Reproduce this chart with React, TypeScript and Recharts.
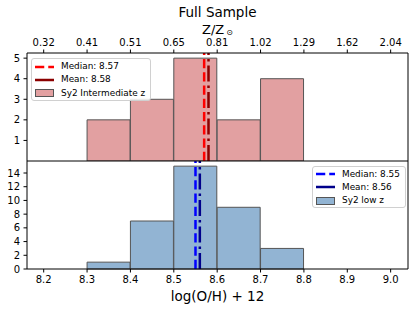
import React from "react";
import { BarChart, Bar, XAxis, YAxis, ReferenceLine } from "recharts";

// bin centres of log(O/H)+12 (width 0.1)
const binCenters = [8.35, 8.45, 8.55, 8.65, 8.75];
const countsIntermediate = [2, 3, 5, 2, 4];
const countsLow = [1, 7, 15, 9, 3];

const xTicks = [8.2, 8.3, 8.4, 8.5, 8.6, 8.7, 8.8, 8.9, 9.0];
const zTickLabels = ["0.32", "0.41", "0.51", "0.65", "0.81", "1.02", "1.29", "1.62", "2.04"];
const topYTicks = [1, 2, 3, 4, 5];
const lowYTicks = [0, 2, 4, 6, 8, 10, 12, 14];

const medianIntermediate = 8.57;
const meanIntermediate = 8.58;
const medianLow = 8.55;
const meanLow = 8.56;

const X_DOMAIN: [number, number] = [8.1615, 9.04];
const FONT = "'DejaVu Sans', sans-serif";
const DASHED = "9.25 4";
const DASHDOT = "16 4 2.5 4";

const topData = binCenters.map((x, i) => ({ x, n: countsIntermediate[i] }));
const lowData = binCenters.map((x, i) => ({ x, n: countsLow[i] }));

const tickStyle = { fontSize: 10, fill: "#000", fontFamily: FONT };
const line = { stroke: "#000" };

const LegendBox = ({ left, top, color, dark, patch, edge, median, mean, name }: any) => (
  <div
    style={{
      position: "absolute",
      left,
      top,
      padding: "1px 5px 0 3px",
      border: "1px solid #d0d0d0",
      borderRadius: 3,
      background: "rgba(255,255,255,0.85)",
      fontFamily: FONT,
      fontSize: 8.9,
      lineHeight: "13.3px",
      color: "#000",
    }}
  >
    <div style={{ display: "flex", alignItems: "center" }}>
      <svg width={19} height={6} style={{ marginRight: 7 }}>
        <line x1={0} y1={3} x2={19} y2={3} stroke={color} strokeWidth={2.5} strokeDasharray={DASHED} />
      </svg>
      {`Median: ${median.toFixed(2)}`}
    </div>
    <div style={{ display: "flex", alignItems: "center" }}>
      <svg width={19} height={6} style={{ marginRight: 7 }}>
        <line x1={0} y1={3} x2={19} y2={3} stroke={dark} strokeWidth={2.5} />
      </svg>
      {`Mean: ${mean.toFixed(2)}`}
    </div>
    <div style={{ display: "flex", alignItems: "center" }}>
      <svg width={19} height={8} style={{ marginRight: 7 }}>
        <rect x={0.5} y={0.5} width={18} height={7} fill={patch} stroke={edge} />
      </svg>
      {name}
    </div>
  </div>
);

export default function App() {
  return (
    <div style={{ position: "absolute", left: 0, top: 0, width: 415, height: 310, overflow: "hidden", background: "#fff" }}>
      <div style={{ position: "absolute", left: 0, width: 435, top: 4, textAlign: "center", fontFamily: FONT, fontSize: 13.5 }}>
        Full Sample
      </div>
      <div style={{ position: "absolute", left: 0, width: 435, top: 22, textAlign: "center", fontFamily: FONT, fontSize: 13 }}>
        Z/Z<span style={{ fontSize: 8, position: "relative", top: 1, marginLeft: 2 }}>⊙</span>
      </div>

      <div style={{ position: "absolute", left: 0, top: 0 }}>
        <BarChart width={415} height={161} data={topData} margin={{ top: 52, right: 6, bottom: 0, left: 26 }} barCategoryGap={0} barGap={0}>
          <XAxis dataKey="x" type="number" domain={X_DOMAIN} allowDataOverflow hide />
          <XAxis
            xAxisId="top"
            dataKey="x"
            type="number"
            orientation="top"
            domain={X_DOMAIN}
            allowDataOverflow
            ticks={xTicks}
            height={1}
            tickFormatter={(v: number) => zTickLabels[xTicks.findIndex((t) => Math.abs(t - v) < 1e-6)] ?? ""}
            tick={tickStyle}
            tickSize={3.5}
            tickMargin={3.5}
            axisLine={line}
            tickLine={line}
            interval={0}
          />
          <YAxis domain={[0, 5.25]} ticks={topYTicks} width={1} tick={tickStyle} tickSize={3.5} tickMargin={3.5} axisLine={line} tickLine={line} interval={0} />
          <YAxis yAxisId="r" orientation="right" domain={[0, 5.25]} width={1} tick={false} tickLine={false} axisLine={line} />
          <Bar dataKey="n" fill="#e2a0a1" stroke="#555" strokeWidth={1} isAnimationActive={false} />
          <ReferenceLine x={medianIntermediate} stroke="#ff0000" strokeWidth={2.5} strokeDasharray={DASHED} />
          <ReferenceLine x={meanIntermediate} stroke="#8b0000" strokeWidth={2.5} strokeDasharray={DASHDOT} />
        </BarChart>
      </div>

      <div style={{ position: "absolute", left: 0, top: 160 }}>
        <BarChart width={415} height={150} data={lowData} margin={{ top: 0, right: 6, bottom: 40, left: 26 }} barCategoryGap={0} barGap={0}>
          <XAxis
            dataKey="x"
            type="number"
            domain={X_DOMAIN}
            allowDataOverflow
            ticks={xTicks}
            height={1}
            tickFormatter={(v: number) => v.toFixed(1)}
            tick={tickStyle}
            tickSize={3.5}
            tickMargin={3.5}
            axisLine={line}
            tickLine={line}
            interval={0}
          />
          <XAxis xAxisId="t" dataKey="x" type="number" orientation="top" domain={X_DOMAIN} allowDataOverflow height={1} tick={false} tickLine={false} axisLine={line} />
          <YAxis domain={[0, 15.75]} ticks={lowYTicks} width={1} tick={tickStyle} tickSize={3.5} tickMargin={3.5} axisLine={line} tickLine={line} interval={0} />
          <YAxis yAxisId="r" orientation="right" domain={[0, 15.75]} width={1} tick={false} tickLine={false} axisLine={line} />
          <Bar dataKey="n" fill="#92b4d3" stroke="#555" strokeWidth={1} isAnimationActive={false} />
          <ReferenceLine x={medianLow} stroke="#0000ff" strokeWidth={2.5} strokeDasharray={DASHED} />
          <ReferenceLine x={meanLow} stroke="#00008b" strokeWidth={2.5} strokeDasharray={DASHDOT} />
        </BarChart>
      </div>

      <div style={{ position: "absolute", left: 0, width: 435, top: 288, textAlign: "center", fontFamily: FONT, fontSize: 13.5 }}>
        log(O/H) + 12
      </div>

      <LegendBox left={31} top={58} color="#ff0000" dark="#8b0000" patch="#e2a0a1" edge="#555" median={medianIntermediate} mean={meanIntermediate} name="Sy2 Intermediate z" />
      <LegendBox left={312} top={165.5} color="#0000ff" dark="#00008b" patch="#92b4d3" edge="#555" median={medianLow} mean={meanLow} name="Sy2 low z" />
    </div>
  );
}
